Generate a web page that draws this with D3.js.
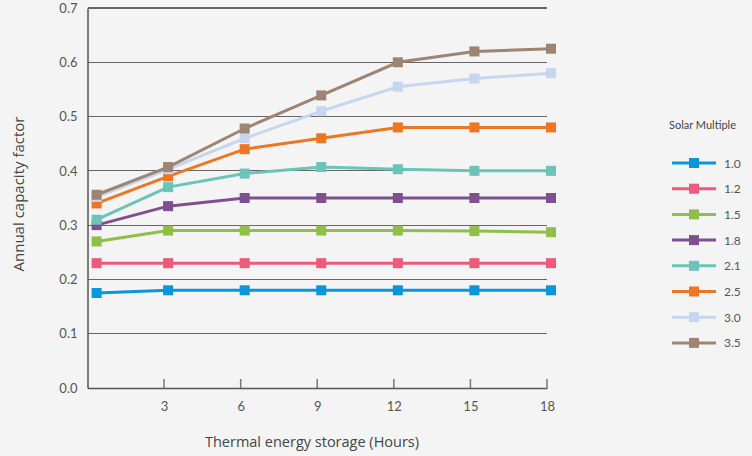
<!DOCTYPE html>
<html><head><meta charset="utf-8">
<script src="https://cdn.jsdelivr.net/npm/d3@7"></script>
<style>
html,body{margin:0;padding:0;background:#f4f4f4;}
svg{display:block;font-family:Lato,"Open Sans",sans-serif;}
</style></head><body>
<svg id="c" width="752" height="456"></svg>
<script>
const hours = [0.2, 3, 6, 9, 12, 15, 18];
const xTicks = [3, 6, 9, 12, 15, 18];
const yTicks = [0, 0.1, 0.2, 0.3, 0.4, 0.5, 0.6, 0.7];
const seriesNames = ["1.0", "1.2", "1.5", "1.8", "2.1", "2.5", "3.0", "3.5"];
const seriesColors = ["#0a96da", "#ee5a7b", "#8fbf48", "#7e5090", "#6ac4b8", "#ee7623", "#c6d6ef", "#9e8473"];
const sm10 = [0.175, 0.18, 0.18, 0.18, 0.18, 0.18, 0.18];
const sm12 = [0.23, 0.23, 0.23, 0.23, 0.23, 0.23, 0.23];
const sm15 = [0.27, 0.29, 0.29, 0.29, 0.29, 0.289, 0.287];
const sm18 = [0.30, 0.335, 0.35, 0.35, 0.35, 0.35, 0.35];
const sm21 = [0.31, 0.37, 0.395, 0.407, 0.403, 0.40, 0.40];
const sm25 = [0.34, 0.39, 0.44, 0.46, 0.48, 0.48, 0.48];
const sm30 = [0.352, 0.403, 0.46, 0.51, 0.555, 0.57, 0.58];
const sm35 = [0.356, 0.407, 0.478, 0.539, 0.60, 0.62, 0.625];
const seriesValues = [sm10, sm12, sm15, sm18, sm21, sm25, sm30, sm35];

const svg = d3.select("#c");
const x = d3.scaleLinear().domain([0, 18]).range([87.5, 547]);
const y = d3.scaleLinear().domain([0, 0.7]).range([388, 8]);

// gridlines
svg.append("g").selectAll("line").data(yTicks.filter(d => d > 0)).join("line")
  .attr("x1", x(0)).attr("x2", x(18)).attr("y1", d => y(d)).attr("y2", d => y(d))
  .attr("stroke", "#666").attr("stroke-width", 1.2).attr("shape-rendering", "crispEdges");

// y axis
const yAxis = svg.append("g").attr("transform", `translate(${x(0)},0)`)
  .call(d3.axisLeft(y).tickValues(yTicks).tickFormat(d3.format(".1f")).tickSize(0).tickPadding(10));
yAxis.select(".domain").attr("stroke", "#555").attr("stroke-width", 1.5);
yAxis.selectAll("text").attr("fill", "#555").attr("font-size", 13).style("font-family", "Lato");

// x axis
const xAxis = svg.append("g").attr("transform", `translate(0,${y(0)})`)
  .call(d3.axisBottom(x).tickValues(xTicks).tickFormat(d3.format("d")).tickSize(0).tickPadding(14));
xAxis.select(".domain").attr("stroke", "#555").attr("stroke-width", 1.5);
xAxis.selectAll("text").attr("fill", "#555").attr("font-size", 13).style("font-family", "Lato");
svg.append("g").selectAll("line").data(xTicks).join("line")
  .attr("x1", d => x(d)).attr("x2", d => x(d)).attr("y1", y(0)).attr("y2", y(0) - 9)
  .attr("stroke", "#777").attr("stroke-width", 1.5);

// titles
svg.append("text").attr("x", 312).attr("y", 447).attr("text-anchor", "middle")
  .attr("fill", "#444").attr("font-size", 14.5).style("font-family", "Open Sans")
  .text("Thermal energy storage (Hours)");
svg.append("text").attr("transform", "translate(24,194) rotate(-90)").attr("text-anchor", "middle")
  .attr("fill", "#444").attr("font-size", 15).style("font-family", "Open Sans")
  .text("Annual capacity factor");

// series
const line = d3.line().x((d, i) => x(hours[i])).y(d => y(d));
const sg = svg.append("g").attr("transform", "translate(4,0)");
seriesValues.forEach((vals, k) => {
  const g = sg.append("g");
  g.append("path").attr("d", line(vals)).attr("fill", "none")
    .attr("stroke", seriesColors[k]).attr("stroke-width", 3);
  g.selectAll("rect").data(vals).join("rect")
    .attr("x", (d, i) => x(hours[i]) - 5).attr("y", d => y(d) - 5)
    .attr("width", 10).attr("height", 10).attr("fill", seriesColors[k]);
});

// legend
const lg = svg.append("g");
lg.append("text").attr("x", 669).attr("y", 129).attr("fill", "#444").attr("font-size", 11).text("Solar Multiple");
seriesNames.forEach((n, k) => {
  const yy = 163 + k * 25.7;
  lg.append("line").attr("x1", 672).attr("x2", 716).attr("y1", yy).attr("y2", yy)
    .attr("stroke", seriesColors[k]).attr("stroke-width", 3);
  lg.append("rect").attr("x", 689).attr("y", yy - 5).attr("width", 10).attr("height", 10).attr("fill", seriesColors[k]);
  lg.append("text").attr("x", 724).attr("y", yy + 4.5).attr("fill", "#555").attr("font-size", 12).text(n);
});
</script>
</body></html>
